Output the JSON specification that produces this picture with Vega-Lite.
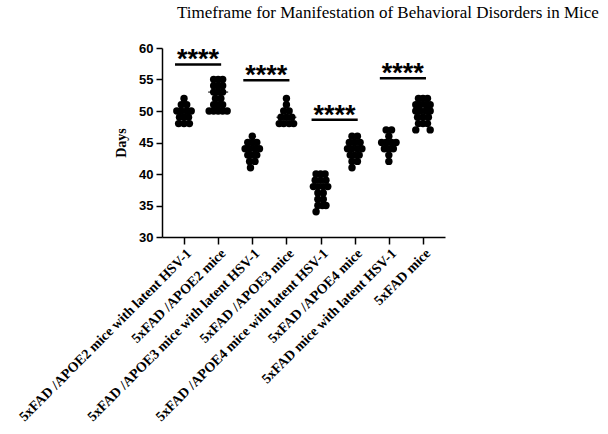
{
  "$schema": "https://vega.github.io/schema/vega-lite/v6.json",
  "autosize": "none",
  "width": 283,
  "height": 189,
  "padding": {"left": 162, "top": 48, "right": 163, "bottom": 197},
  "background": "white",
  "title": {
    "text": "Timeframe for Manifestation of Behavioral Disorders in Mice",
    "font": "Liberation Serif",
    "fontSize": 17,
    "fontWeight": "normal",
    "color": "black",
    "anchor": "start",
    "frame": "group",
    "dx": 15,
    "offset": 20
  },
  "config": {
    "view": {"stroke": null},
    "axis": {"grid": false, "domainColor": "black", "tickColor": "black", "domainWidth": 1.5, "tickWidth": 1.5, "labelColor": "black", "titleColor": "black"}
  },
  "datasets": {
    "pts": [
      {"g": "5xFAD /APOE2 mice with latent HSV-1", "days": 52, "s": 0},
      {"g": "5xFAD /APOE2 mice with latent HSV-1", "days": 51, "s": -0.6},
      {"g": "5xFAD /APOE2 mice with latent HSV-1", "days": 51, "s": 0.6},
      {"g": "5xFAD /APOE2 mice with latent HSV-1", "days": 50, "s": -1.6},
      {"g": "5xFAD /APOE2 mice with latent HSV-1", "days": 50, "s": -0.6},
      {"g": "5xFAD /APOE2 mice with latent HSV-1", "days": 50, "s": 0.6},
      {"g": "5xFAD /APOE2 mice with latent HSV-1", "days": 50, "s": 1.6},
      {"g": "5xFAD /APOE2 mice with latent HSV-1", "days": 49, "s": -1},
      {"g": "5xFAD /APOE2 mice with latent HSV-1", "days": 49, "s": 0},
      {"g": "5xFAD /APOE2 mice with latent HSV-1", "days": 49, "s": 1},
      {"g": "5xFAD /APOE2 mice with latent HSV-1", "days": 48, "s": -1.2},
      {"g": "5xFAD /APOE2 mice with latent HSV-1", "days": 48, "s": 0},
      {"g": "5xFAD /APOE2 mice with latent HSV-1", "days": 48, "s": 1.2},

      {"g": "5xFAD /APOE2 mice", "days": 55, "s": -1},
      {"g": "5xFAD /APOE2 mice", "days": 55, "s": 0},
      {"g": "5xFAD /APOE2 mice", "days": 55, "s": 1},
      {"g": "5xFAD /APOE2 mice", "days": 54, "s": -1},
      {"g": "5xFAD /APOE2 mice", "days": 54, "s": 0},
      {"g": "5xFAD /APOE2 mice", "days": 54, "s": 1},
      {"g": "5xFAD /APOE2 mice", "days": 53, "s": -1},
      {"g": "5xFAD /APOE2 mice", "days": 53, "s": 0},
      {"g": "5xFAD /APOE2 mice", "days": 53, "s": 1},
      {"g": "5xFAD /APOE2 mice", "days": 52, "s": -0.6},
      {"g": "5xFAD /APOE2 mice", "days": 52, "s": 0.6},
      {"g": "5xFAD /APOE2 mice", "days": 51, "s": -1},
      {"g": "5xFAD /APOE2 mice", "days": 51, "s": 0},
      {"g": "5xFAD /APOE2 mice", "days": 51, "s": 1},
      {"g": "5xFAD /APOE2 mice", "days": 50, "s": -2},
      {"g": "5xFAD /APOE2 mice", "days": 50, "s": -1},
      {"g": "5xFAD /APOE2 mice", "days": 50, "s": 0},
      {"g": "5xFAD /APOE2 mice", "days": 50, "s": 1},
      {"g": "5xFAD /APOE2 mice", "days": 50, "s": 2},

      {"g": "5xFAD /APOE3 mice with latent HSV-1", "days": 46, "s": 0},
      {"g": "5xFAD /APOE3 mice with latent HSV-1", "days": 45, "s": -1},
      {"g": "5xFAD /APOE3 mice with latent HSV-1", "days": 45, "s": 0},
      {"g": "5xFAD /APOE3 mice with latent HSV-1", "days": 45, "s": 1},
      {"g": "5xFAD /APOE3 mice with latent HSV-1", "days": 44, "s": -1.6},
      {"g": "5xFAD /APOE3 mice with latent HSV-1", "days": 44, "s": -0.6},
      {"g": "5xFAD /APOE3 mice with latent HSV-1", "days": 44, "s": 0.6},
      {"g": "5xFAD /APOE3 mice with latent HSV-1", "days": 44, "s": 1.6},
      {"g": "5xFAD /APOE3 mice with latent HSV-1", "days": 43, "s": -1},
      {"g": "5xFAD /APOE3 mice with latent HSV-1", "days": 43, "s": 0},
      {"g": "5xFAD /APOE3 mice with latent HSV-1", "days": 43, "s": 1},
      {"g": "5xFAD /APOE3 mice with latent HSV-1", "days": 42, "s": -0.6},
      {"g": "5xFAD /APOE3 mice with latent HSV-1", "days": 42, "s": 0.6},
      {"g": "5xFAD /APOE3 mice with latent HSV-1", "days": 41, "s": -0.4},

      {"g": "5xFAD /APOE3 mice", "days": 52, "s": 0},
      {"g": "5xFAD /APOE3 mice", "days": 51, "s": 0},
      {"g": "5xFAD /APOE3 mice", "days": 50, "s": -0.6},
      {"g": "5xFAD /APOE3 mice", "days": 50, "s": 0.6},
      {"g": "5xFAD /APOE3 mice", "days": 49, "s": -1.2},
      {"g": "5xFAD /APOE3 mice", "days": 49, "s": 0},
      {"g": "5xFAD /APOE3 mice", "days": 49, "s": 1.2},
      {"g": "5xFAD /APOE3 mice", "days": 48, "s": -1.6},
      {"g": "5xFAD /APOE3 mice", "days": 48, "s": -0.6},
      {"g": "5xFAD /APOE3 mice", "days": 48, "s": 0.6},
      {"g": "5xFAD /APOE3 mice", "days": 48, "s": 1.6},

      {"g": "5xFAD /APOE4 mice with latent HSV-1", "days": 40, "s": -1},
      {"g": "5xFAD /APOE4 mice with latent HSV-1", "days": 40, "s": 0},
      {"g": "5xFAD /APOE4 mice with latent HSV-1", "days": 40, "s": 1},
      {"g": "5xFAD /APOE4 mice with latent HSV-1", "days": 39, "s": -1.2},
      {"g": "5xFAD /APOE4 mice with latent HSV-1", "days": 39, "s": 0},
      {"g": "5xFAD /APOE4 mice with latent HSV-1", "days": 39, "s": 1.2},
      {"g": "5xFAD /APOE4 mice with latent HSV-1", "days": 38, "s": -1.6},
      {"g": "5xFAD /APOE4 mice with latent HSV-1", "days": 38, "s": -0.6},
      {"g": "5xFAD /APOE4 mice with latent HSV-1", "days": 38, "s": 0.6},
      {"g": "5xFAD /APOE4 mice with latent HSV-1", "days": 38, "s": 1.6},
      {"g": "5xFAD /APOE4 mice with latent HSV-1", "days": 37, "s": -0.6},
      {"g": "5xFAD /APOE4 mice with latent HSV-1", "days": 37, "s": 0.6},
      {"g": "5xFAD /APOE4 mice with latent HSV-1", "days": 36, "s": -0.6},
      {"g": "5xFAD /APOE4 mice with latent HSV-1", "days": 36, "s": 0.6},
      {"g": "5xFAD /APOE4 mice with latent HSV-1", "days": 35, "s": -0.6},
      {"g": "5xFAD /APOE4 mice with latent HSV-1", "days": 35, "s": 0.4},
      {"g": "5xFAD /APOE4 mice with latent HSV-1", "days": 35, "s": 1.2},
      {"g": "5xFAD /APOE4 mice with latent HSV-1", "days": 34, "s": -1},

      {"g": "5xFAD /APOE4 mice", "days": 46, "s": -0.6},
      {"g": "5xFAD /APOE4 mice", "days": 46, "s": 0.6},
      {"g": "5xFAD /APOE4 mice", "days": 45, "s": -1.2},
      {"g": "5xFAD /APOE4 mice", "days": 45, "s": 0},
      {"g": "5xFAD /APOE4 mice", "days": 45, "s": 1.2},
      {"g": "5xFAD /APOE4 mice", "days": 44, "s": -1.6},
      {"g": "5xFAD /APOE4 mice", "days": 44, "s": -0.6},
      {"g": "5xFAD /APOE4 mice", "days": 44, "s": 0.6},
      {"g": "5xFAD /APOE4 mice", "days": 44, "s": 1.6},
      {"g": "5xFAD /APOE4 mice", "days": 43, "s": -1},
      {"g": "5xFAD /APOE4 mice", "days": 43, "s": 0},
      {"g": "5xFAD /APOE4 mice", "days": 43, "s": 1},
      {"g": "5xFAD /APOE4 mice", "days": 42, "s": -0.6},
      {"g": "5xFAD /APOE4 mice", "days": 42, "s": 0.6},
      {"g": "5xFAD /APOE4 mice", "days": 41, "s": -0.6},

      {"g": "5xFAD mice with latent HSV-1", "days": 47, "s": -0.6},
      {"g": "5xFAD mice with latent HSV-1", "days": 47, "s": 0.6},
      {"g": "5xFAD mice with latent HSV-1", "days": 46, "s": 0},
      {"g": "5xFAD mice with latent HSV-1", "days": 45, "s": -1.6},
      {"g": "5xFAD mice with latent HSV-1", "days": 45, "s": -0.6},
      {"g": "5xFAD mice with latent HSV-1", "days": 45, "s": 0.6},
      {"g": "5xFAD mice with latent HSV-1", "days": 45, "s": 1.6},
      {"g": "5xFAD mice with latent HSV-1", "days": 44, "s": -1},
      {"g": "5xFAD mice with latent HSV-1", "days": 44, "s": 0},
      {"g": "5xFAD mice with latent HSV-1", "days": 44, "s": 1},
      {"g": "5xFAD mice with latent HSV-1", "days": 43, "s": 0},
      {"g": "5xFAD mice with latent HSV-1", "days": 42, "s": 0},

      {"g": "5xFAD mice", "days": 52, "s": -1},
      {"g": "5xFAD mice", "days": 52, "s": 0},
      {"g": "5xFAD mice", "days": 52, "s": 1},
      {"g": "5xFAD mice", "days": 51, "s": -1.6},
      {"g": "5xFAD mice", "days": 51, "s": -0.6},
      {"g": "5xFAD mice", "days": 51, "s": 0.6},
      {"g": "5xFAD mice", "days": 51, "s": 1.6},
      {"g": "5xFAD mice", "days": 50, "s": -1.6},
      {"g": "5xFAD mice", "days": 50, "s": -0.6},
      {"g": "5xFAD mice", "days": 50, "s": 0.6},
      {"g": "5xFAD mice", "days": 50, "s": 1.6},
      {"g": "5xFAD mice", "days": 49, "s": -1.2},
      {"g": "5xFAD mice", "days": 49, "s": 0},
      {"g": "5xFAD mice", "days": 49, "s": 1.2},
      {"g": "5xFAD mice", "days": 48, "s": -1},
      {"g": "5xFAD mice", "days": 48, "s": 0},
      {"g": "5xFAD mice", "days": 48, "s": 1},
      {"g": "5xFAD mice", "days": 47, "s": -1.6},
      {"g": "5xFAD mice", "days": 47, "s": 1.6}
    ],
    "means": [
      {"g": "5xFAD /APOE2 mice with latent HSV-1", "mean": 50},
      {"g": "5xFAD /APOE2 mice", "mean": 53},
      {"g": "5xFAD /APOE3 mice with latent HSV-1", "mean": 44},
      {"g": "5xFAD /APOE3 mice", "mean": 49},
      {"g": "5xFAD /APOE4 mice with latent HSV-1", "mean": 38},
      {"g": "5xFAD /APOE4 mice", "mean": 44},
      {"g": "5xFAD mice with latent HSV-1", "mean": 45},
      {"g": "5xFAD mice", "mean": 50}
    ],
    "sig": [
      {"a": "5xFAD /APOE2 mice with latent HSV-1", "b": "5xFAD /APOE2 mice", "y": 57.4, "label": "****"},
      {"a": "5xFAD /APOE3 mice with latent HSV-1", "b": "5xFAD /APOE3 mice", "y": 54.9, "label": "****"},
      {"a": "5xFAD /APOE4 mice with latent HSV-1", "b": "5xFAD /APOE4 mice", "y": 48.6, "label": "****"},
      {"a": "5xFAD mice with latent HSV-1", "b": "5xFAD mice", "y": 55.2, "label": "****"}
    ]
  },
  "layer": [
    {
      "data": {"name": "pts"},
      "mark": {"type": "circle", "size": 55, "color": "black", "opacity": 1},
      "encoding": {
        "x": {
          "field": "g", "type": "nominal", "sort": null,
          "scale": {"type": "point", "padding": 0.645,
            "domain": ["5xFAD /APOE2 mice with latent HSV-1", "5xFAD /APOE2 mice", "5xFAD /APOE3 mice with latent HSV-1", "5xFAD /APOE3 mice", "5xFAD /APOE4 mice with latent HSV-1", "5xFAD /APOE4 mice", "5xFAD mice with latent HSV-1", "5xFAD mice"]},
          "axis": {"title": null, "labelAngle": -45, "labelFont": "Liberation Serif", "labelFontWeight": "bold", "labelFontSize": 14, "tickSize": 7, "labelPadding": 2, "labelLimit": 400}
        },
        "xOffset": {"field": "s", "type": "quantitative", "scale": {"domain": [-2, 2], "range": [-9, 9]}},
        "y": {
          "field": "days", "type": "quantitative",
          "scale": {"domain": [30, 60], "nice": false, "zero": false},
          "axis": {"title": "Days", "titleFont": "Liberation Serif", "titleFontWeight": "bold", "titleFontSize": 14, "titlePadding": 10, "values": [30, 35, 40, 45, 50, 55, 60], "labelFont": "Liberation Sans", "labelFontWeight": "bold", "labelFontSize": 13, "tickSize": 6, "labelPadding": 3}
        }
      }
    },
    {
      "data": {"name": "means"},
      "mark": {"type": "tick", "color": "black", "size": 20, "thickness": 1.5, "orient": "horizontal"},
      "encoding": {
        "x": {"field": "g", "type": "nominal", "sort": null},
        "y": {"field": "mean", "type": "quantitative",
          "axis": {"title": "Days", "titleFont": "Liberation Serif", "titleFontWeight": "bold", "titleFontSize": 14, "titlePadding": 10, "values": [30, 35, 40, 45, 50, 55, 60], "labelFont": "Liberation Sans", "labelFontWeight": "bold", "labelFontSize": 13, "tickSize": 6, "labelPadding": 3}}
      }
    },
    {
      "data": {"name": "sig"},
      "mark": {"type": "rule", "color": "black", "strokeWidth": 2.5, "xOffset": -9, "x2Offset": 3},
      "encoding": {
        "x": {"field": "a", "type": "nominal", "sort": null},
        "x2": {"field": "b"},
        "y": {"field": "y", "type": "quantitative",
          "axis": {"title": "Days", "titleFont": "Liberation Serif", "titleFontWeight": "bold", "titleFontSize": 14, "titlePadding": 10, "values": [30, 35, 40, 45, 50, 55, 60], "labelFont": "Liberation Sans", "labelFontWeight": "bold", "labelFontSize": 13, "tickSize": 6, "labelPadding": 3}}
      }
    },
    {
      "data": {"name": "sig"},
      "mark": {"type": "text", "color": "black", "font": "Liberation Sans", "fontWeight": "bold", "fontSize": 27, "dx": 14, "dy": 4, "baseline": "alphabetic", "align": "center"},
      "encoding": {
        "x": {"field": "a", "type": "nominal", "sort": null},
        "y": {"field": "y", "type": "quantitative",
          "axis": {"title": "Days", "titleFont": "Liberation Serif", "titleFontWeight": "bold", "titleFontSize": 14, "titlePadding": 10, "values": [30, 35, 40, 45, 50, 55, 60], "labelFont": "Liberation Sans", "labelFontWeight": "bold", "labelFontSize": 13, "tickSize": 6, "labelPadding": 3}},
        "text": {"field": "label"}
      }
    }
  ]
}
